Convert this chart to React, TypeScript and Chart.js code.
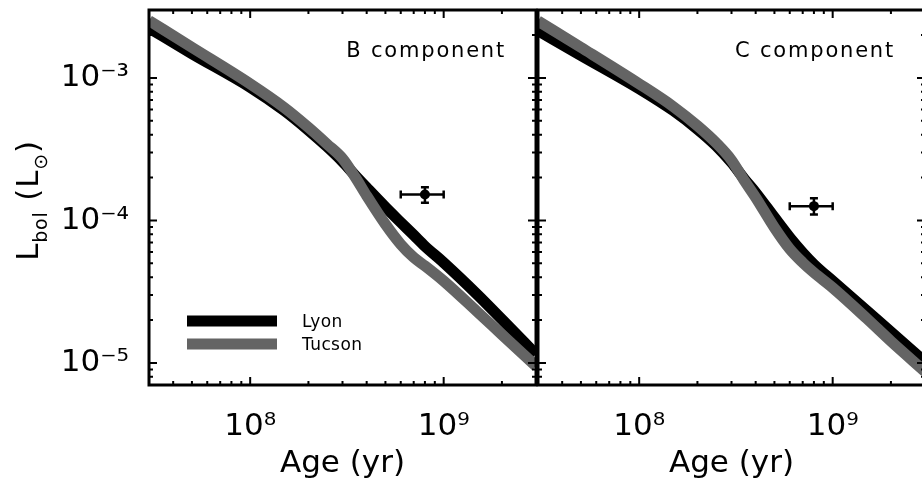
import React, { useEffect, useRef } from "react";
import { Chart, registerables } from "chart.js";

Chart.register(...registerables);

const FONT = '"DejaVu Sans", "Liberation Sans", sans-serif';
const WEIGHT = 400;
const GRAY = "rgb(100,100,100)";
const BLACK = "#000000";

// ---- data ----
const AGES = [3e7, 5e7, 1e8, 1.5e8, 2e8, 2.5e8, 3e8, 3.5e8, 4e8, 5e8, 6e8, 7e8, 8e8, 1e9, 1.5e9, 2e9, 3e9];
const B_LYON = [2.24e-3, 1.48e-3, 8.6e-4, 5.9e-4, 4.3e-4, 3.29e-4, 2.59e-4, 2.06e-4, 1.7e-4, 1.24e-4, 9.7e-5, 7.9e-5, 6.6e-5, 5.06e-5, 3.0e-5, 2.02e-5, 1.15e-5];
const B_TUCSON = [2.53e-3, 1.64e-3, 9.1e-4, 6.2e-4, 4.5e-4, 3.43e-4, 2.72e-4, 2.0e-4, 1.49e-4, 9.4e-5, 6.8e-5, 5.5e-5, 4.8e-5, 3.76e-5, 2.27e-5, 1.58e-5, 9.5e-6];
const C_LYON = [2.15e-3, 1.44e-3, 8.4e-4, 5.9e-4, 4.37e-4, 3.34e-4, 2.55e-4, 1.95e-4, 1.57e-4, 1.05e-4, 7.6e-5, 5.95e-5, 4.92e-5, 3.76e-5, 2.33e-5, 1.65e-5, 1.02e-5];
const C_TUCSON = [2.51e-3, 1.64e-3, 9.1e-4, 6.3e-4, 4.62e-4, 3.5e-4, 2.65e-4, 1.9e-4, 1.45e-4, 8.9e-5, 6.3e-5, 5.06e-5, 4.3e-5, 3.37e-5, 2.05e-5, 1.42e-5, 8.7e-6];

// observed points: index 0 = B component, 1 = C component
const OBS_AGE = [8e8, 8e8];
const OBS_AGE_LO = [6e8, 6e8];
const OBS_AGE_HI = [1e9, 1e9];
const OBS_LUM = [1.52e-4, 1.26e-4];
const OBS_LUM_LO = [1.33e-4, 1.1e-4];
const OBS_LUM_HI = [1.71e-4, 1.43e-4];

const PANEL_LABELS = ["B component", "C component"];
const SERIES_NAMES = ["Lyon", "Tucson"];
const X_RANGE = [3e7, 3e9];
const Y_RANGE = [7e-6, 3e-3];
const X_TICKS = [1e8, 1e9];
const Y_TICKS = [1e-3, 1e-4, 1e-5];
const X_TITLE = "Age (yr)";

const SUP: Record<string, string> = {
  "-": "\u207B", "0": "\u2070", "1": "\u00B9", "2": "\u00B2", "3": "\u00B3",
  "4": "\u2074", "5": "\u2075", "6": "\u2076", "7": "\u2077", "8": "\u2078", "9": "\u2079",
};
const powLabel = (v: number) =>
  "10" + String(Math.round(Math.log10(v))).split("").map((c) => SUP[c] ?? c).join("");

type PanelProps = {
  index: number;
  lyon: number[];
  tucson: number[];
  left: number;
  width: number;
  yAxisWidth: number;
  padRight: number;
  showY: boolean;
  showLegend: boolean;
};

function drawTicksAndFrame(chart: any) {
  const { ctx, chartArea, scales } = chart;
  const { left, right, top, bottom } = chartArea;
  const x = scales.x;
  const y = scales.y;
  ctx.save();
  ctx.strokeStyle = BLACK;
  ctx.lineWidth = 2;
  ctx.beginPath();
  for (let d = 7; d <= 9; d++) {
    for (let m = 1; m <= 9; m++) {
      const v = m * Math.pow(10, d);
      if (v < x.min * 0.999 || v > x.max * 1.001) continue;
      const px = x.getPixelForValue(v);
      const len = m === 1 ? 8 : 4;
      ctx.moveTo(px, bottom);
      ctx.lineTo(px, bottom - len);
      ctx.moveTo(px, top);
      ctx.lineTo(px, top + len);
    }
  }
  for (let d = -6; d <= -3; d++) {
    for (let m = 1; m <= 9; m++) {
      const v = m * Math.pow(10, d);
      if (v < y.min * 0.999 || v > y.max * 1.001) continue;
      const py = y.getPixelForValue(v);
      const len = m === 1 ? 8 : 4;
      ctx.moveTo(left, py);
      ctx.lineTo(left + len, py);
      ctx.moveTo(right, py);
      ctx.lineTo(right - len, py);
    }
  }
  ctx.stroke();
  ctx.lineWidth = 3;
  ctx.strokeRect(left, top, right - left, bottom - top);
  ctx.restore();
}

function drawYTitle(chart: any) {
  const { ctx, chartArea } = chart;
  const parts = [
    { t: "L", size: 31, dy: 0 },
    { t: "bol", size: 19, dy: 9 },
    { t: " (L", size: 31, dy: 0 },
    { t: "\u2299", size: 19, dy: 9 },
    { t: ")", size: 31, dy: 0 },
  ];
  ctx.save();
  ctx.fillStyle = BLACK;
  ctx.textBaseline = "alphabetic";
  ctx.textAlign = "left";
  (ctx as any).letterSpacing = "0.8px";
  let total = 0;
  for (const p of parts) {
    ctx.font = `${WEIGHT} ${p.size}px ${FONT}`;
    total += ctx.measureText(p.t).width;
  }
  const cy = (chartArea.top + chartArea.bottom) / 2 + 3;
  ctx.translate(38, cy + total / 2);
  ctx.rotate(-Math.PI / 2);
  let xx = 0;
  for (const p of parts) {
    ctx.font = `${WEIGHT} ${p.size}px ${FONT}`;
    ctx.fillText(p.t, xx, p.dy);
    xx += ctx.measureText(p.t).width;
  }
  ctx.restore();
}

function Panel(props: PanelProps) {
  const ref = useRef<HTMLCanvasElement>(null);
  useEffect(() => {
    const canvas = ref.current;
    if (!canvas) return;
    const i = props.index;
    const decor = {
      id: "decor" + i,
      afterDatasetsDraw(chart: any) {
        const { ctx, scales } = chart;
        const x = scales.x;
        const y = scales.y;
        const px = x.getPixelForValue(OBS_AGE[i]);
        const pxLo = x.getPixelForValue(OBS_AGE_LO[i]);
        const pxHi = x.getPixelForValue(OBS_AGE_HI[i]);
        const py = y.getPixelForValue(OBS_LUM[i]);
        const pyLo = y.getPixelForValue(OBS_LUM_LO[i]);
        const pyHi = y.getPixelForValue(OBS_LUM_HI[i]);
        const cap = 4;
        ctx.save();
        ctx.strokeStyle = BLACK;
        ctx.lineWidth = 2.5;
        ctx.beginPath();
        ctx.moveTo(pxLo, py);
        ctx.lineTo(pxHi, py);
        ctx.moveTo(pxLo, py - cap);
        ctx.lineTo(pxLo, py + cap);
        ctx.moveTo(pxHi, py - cap);
        ctx.lineTo(pxHi, py + cap);
        ctx.moveTo(px, pyLo);
        ctx.lineTo(px, pyHi);
        ctx.moveTo(px - cap, pyLo);
        ctx.lineTo(px + cap, pyLo);
        ctx.moveTo(px - cap, pyHi);
        ctx.lineTo(px + cap, pyHi);
        ctx.stroke();
        ctx.restore();
      },
      afterDraw(chart: any) {
        const { ctx, chartArea } = chart;
        drawTicksAndFrame(chart);
        // panel label
        ctx.save();
        ctx.fillStyle = BLACK;
        ctx.font = `${WEIGHT} 21px ${FONT}`;
        (ctx as any).letterSpacing = "1.8px";
        ctx.textAlign = "right";
        ctx.textBaseline = "alphabetic";
        ctx.fillText(PANEL_LABELS[i], chartArea.right - 30, chartArea.top + 47);
        ctx.restore();
        if (props.showLegend) {
          const ds = chart.data.datasets;
          const rows = [
            { name: SERIES_NAMES[0], color: ds[2].borderColor, ly: 311, ty: 317 },
            { name: SERIES_NAMES[1], color: ds[1].borderColor, ly: 334, ty: 340 },
          ];
          ctx.save();
          ctx.lineCap = "butt";
          ctx.lineWidth = 11;
          ctx.font = `${WEIGHT} 17px ${FONT}`;
          (ctx as any).letterSpacing = "0.4px";
          ctx.textAlign = "left";
          ctx.textBaseline = "alphabetic";
          for (const r of rows) {
            ctx.strokeStyle = r.color;
            ctx.beginPath();
            ctx.moveTo(chartArea.left + 38, chartArea.top + r.ly);
            ctx.lineTo(chartArea.left + 128, chartArea.top + r.ly);
            ctx.stroke();
            ctx.fillStyle = BLACK;
            ctx.fillText(r.name, chartArea.left + 153, chartArea.top + r.ty);
          }
          ctx.restore();
        }
        if (props.showY) drawYTitle(chart);
      },
    };

    const lineDs = (label: string, values: number[], color: string, order: number) => ({
      label,
      data: AGES.map((a, k) => ({ x: a, y: values[k] })),
      borderColor: color,
      backgroundColor: color,
      borderWidth: 11,
      borderJoinStyle: "round" as const,
      borderCapStyle: "butt" as const,
      pointRadius: 0,
      cubicInterpolationMode: "monotone" as const,
      fill: false,
      clip: 0,
      order,
    });

    const chart = new Chart(canvas, {
      type: "line",
      data: {
        datasets: [
          {
            label: "observed",
            data: [{ x: OBS_AGE[i], y: OBS_LUM[i] }],
            showLine: false,
            pointRadius: 5,
            pointBackgroundColor: BLACK,
            pointBorderColor: BLACK,
            pointBorderWidth: 0,
            order: 0,
          } as any,
          lineDs(SERIES_NAMES[1], props.tucson, GRAY, 1),
          lineDs(SERIES_NAMES[0], props.lyon, BLACK, 2),
        ],
      },
      options: {
        animation: false,
        responsive: false,
        events: [],
        layout: { padding: { left: 0, top: 10, right: props.padRight, bottom: 0 } },
        plugins: { legend: { display: false }, tooltip: { enabled: false } },
        scales: {
          x: {
            type: "logarithmic",
            position: "bottom",
            min: X_RANGE[0],
            max: X_RANGE[1],
            grid: { display: false },
            border: { display: false },
            afterBuildTicks: (s: any) => {
              s.ticks = X_TICKS.map((v) => ({ value: v }));
            },
            afterFit: (s: any) => {
              s.height = 98;
              s.paddingLeft = 0;
              s.paddingRight = 0;
            },
            ticks: {
              autoSkip: false,
              maxRotation: 0,
              padding: 15,
              color: BLACK,
              font: { family: FONT, size: 31, weight: WEIGHT },
              callback: (v: any) => powLabel(Number(v)),
            },
            title: {
              display: true,
              text: X_TITLE,
              color: BLACK,
              font: { family: FONT, size: 31, weight: WEIGHT },
              padding: { top: 0, bottom: 0 },
            },
          },
          y: {
            type: "logarithmic",
            position: "left",
            min: Y_RANGE[0],
            max: Y_RANGE[1],
            grid: { display: false },
            border: { display: false },
            afterBuildTicks: (s: any) => {
              s.ticks = Y_TICKS.map((v) => ({ value: v }));
            },
            afterFit: (s: any) => {
              s.width = props.yAxisWidth;
              s.paddingTop = 0;
              s.paddingBottom = 0;
            },
            ticks: {
              display: props.showY,
              autoSkip: false,
              padding: 12,
              color: BLACK,
              font: { family: FONT, size: 31, weight: WEIGHT },
              callback: (v: any) => powLabel(Number(v)),
            },
            title: { display: false },
          },
        },
      } as any,
      plugins: [decor],
    });
    return () => chart.destroy();
  }, []);

  return (
    <canvas
      ref={ref}
      width={props.width}
      height={483}
      style={{ position: "absolute", left: props.left, top: 0, width: props.width, height: 483 }}
    />
  );
}

export default function App() {
  return (
    <div
      style={{
        position: "fixed",
        left: 0,
        top: 0,
        width: 922,
        height: 483,
        overflow: "hidden",
        background: "#ffffff",
      }}
    >
      <Panel index={0} lyon={B_LYON} tucson={B_TUCSON} left={0} width={541} yAxisWidth={149} padRight={3} showY={true} showLegend={true} />
      <Panel index={1} lyon={C_LYON} tucson={C_TUCSON} left={530} width={400} yAxisWidth={8} padRight={3} showY={false} showLegend={false} />
    </div>
  );
}
